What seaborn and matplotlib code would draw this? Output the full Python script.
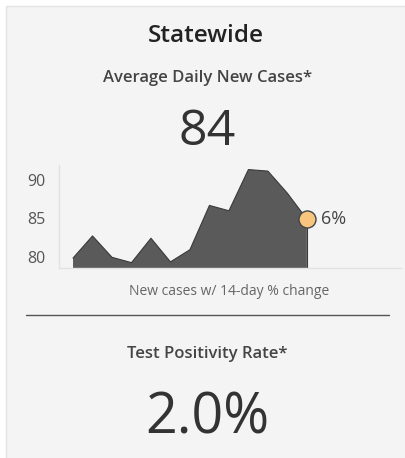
import numpy as np
import pandas as pd
import matplotlib as mplt
mplt.use("Agg")
import matplotlib.pyplot as plt
import seaborn as sns
from matplotlib.patches import Rectangle
from matplotlib.lines import Line2D

# Daily new cases (14-day window)
days = list(range(13))
newCases = [79.8, 82.7, 79.9, 79.2, 82.4, 79.3, 80.9, 86.7, 86.0, 91.4, 91.2, 88.3, 84.9]
yTicks = [80, 85, 90]
pctChange = "6%"
avgCases = "84"
positivity = "2.0%"

sns.set_theme(style="white")
plt.rcParams['font.family'] = ['Open Sans', 'DejaVu Sans']

fig = plt.figure(figsize=(4.06, 4.58), dpi=100)
fig.patch.set_facecolor("white")

# card background
fig.patches.append(Rectangle((6/406, -0.01), 1, 1.01 - 6/458, transform=fig.transFigure,
                             facecolor="#f4f4f4", edgecolor="#e4e4e4", linewidth=1, zorder=-5))

def py(px):
    return 1 - px/458

fig.text(0.507, py(42), "Statewide", ha="center", va="baseline", fontsize=17.5, weight="semibold", color="#222222")
fig.text(0.512, py(82), "Average Daily New Cases*", ha="center", va="baseline", fontsize=12, weight="semibold", color="#444444")
fig.text(0.51, py(145), avgCases, ha="center", va="baseline", fontsize=36, weight="medium", color="#333333")

ax = fig.add_axes([59/406, py(268), 342/406, 103/458])
ax.set_facecolor("none")
df = pd.DataFrame({"day": days, "cases": newCases})
ax.fill_between(df.day, df.cases, 0, color="#5a5a5a", linewidth=0)
sns.lineplot(data=df, x="day", y="cases", ax=ax, color="#3a3a3a", linewidth=0.8)
ax.plot([days[-1], days[-1]], [0, newCases[-1]], color="#3a3a3a", linewidth=0.8)
sns.scatterplot(x=[days[-1]], y=[newCases[-1]], ax=ax, s=150, color="#f8c57f",
                edgecolor="#444444", linewidth=1, zorder=5)
ax.annotate(pctChange, (days[-1], newCases[-1]), xytext=(10, 0), textcoords="offset points",
            ha="left", va="center", fontsize=13, color="#444444")
ax.set_xlim(-0.72, 16.83)
ax.set_ylim(78.5, 92)
ax.set_yticks(yTicks)
ax.set_xticks([])
ax.set_xlabel("")
ax.set_ylabel("")
ax.tick_params(axis="y", length=0, pad=10, labelsize=11.5, labelcolor="#555555")
for s in ["top", "right"]:
    ax.spines[s].set_visible(False)
for s in ["left", "bottom"]:
    ax.spines[s].set_color("#e2e2e2")
    ax.spines[s].set_linewidth(1)

fig.text(0.564, py(295), "New cases w/ 14-day % change", ha="center", va="baseline", fontsize=10, color="#666666")

fig.lines.append(Line2D([26/406, 389/406], [py(315), py(315)], transform=fig.transFigure,
                        color="#555555", linewidth=1))

fig.text(0.51, py(358), "Test Positivity Rate*", ha="center", va="baseline", fontsize=12, weight="semibold", color="#444444")
fig.text(0.51, py(433), positivity, ha="center", va="baseline", fontsize=40, weight="medium", color="#333333")

fig.savefig("out.png", dpi=100, facecolor=fig.get_facecolor())
